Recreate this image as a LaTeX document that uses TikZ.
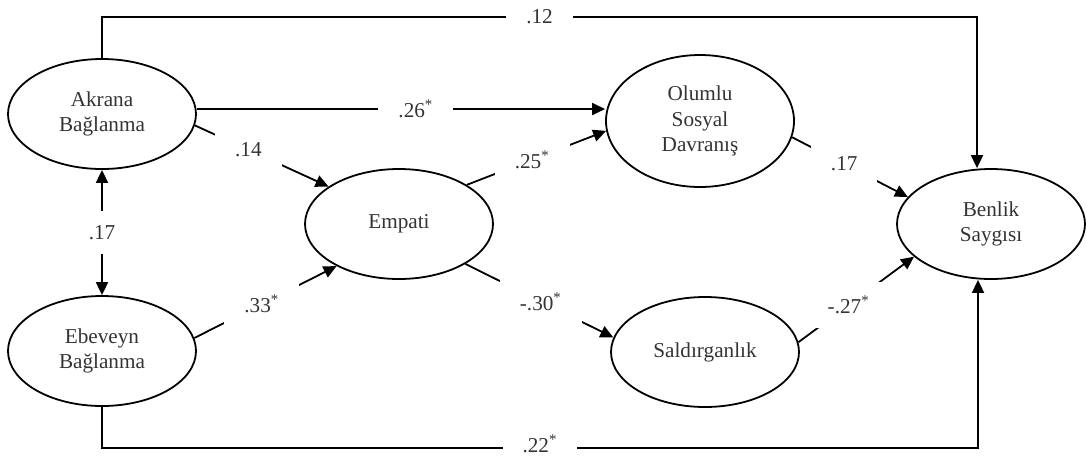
\documentclass[tikz,border=0pt]{standalone}
\usepackage{fontspec}
\setmainfont{Liberation Serif}
\usetikzlibrary{shapes.geometric,arrows.meta}

\tikzset{head/.tip={Triangle[length=6.5pt,width=6pt]}}

\begin{document}
\begin{tikzpicture}[x=0.5pt,y=-0.5pt,
	var/.style={ellipse, draw, line width=0.9pt, minimum width=94pt, minimum height=55pt, inner sep=0pt, align=center, text=black!80, font=\fontsize{10.6}{12.8}\selectfont},
	arr/.style={line width=0.9pt, -head},
	lbl/.style={fill=white, inner xsep=10pt, inner ysep=7pt, text=black!80, font=\fontsize{10.6}{12.8}\selectfont}]
	\useasboundingbox (0,0) rectangle (1086,456);
	% Nodes
	\foreach \nm/\x/\y/\txt in {akrana/102/114/{Akrana\\Bağlanma}, ebeveyn/102/351/{Ebeveyn\\Bağlanma}, empati/399/224/Empati, saldirgan/705/352/Saldırganlık, benlik/991/224/{Benlik\\Saygısı}} {
		\node[var] (\nm) at (\x,\y) {\txt};
	}
	\node[var, minimum height=66pt] (olumlu) at (700,121) {Olumlu\\Sosyal\\Davranış};
	\coordinate (topR) at (977,17);
	\coordinate (botR) at (978,448);
	% Paths
	\foreach \a/\b/\p/\l in {akrana.-7/empati.152/0.40/.14, ebeveyn.8/empati.214/0.475/.33\textsuperscript{*}, empati.30/olumlu.186/0.47/.25\textsuperscript{*}, empati.-31/saldirgan.171/0.51/-.30\textsuperscript{*}, olumlu.-10/benlik.162/0.45/.17, saldirgan.6/benlik.203/0.435/-.27\textsuperscript{*}} {
		\draw[arr] (\a) -- node[lbl, pos=\p] {\l} (\b);
	}
	\draw[arr] (akrana.3) -- node[lbl, pos=0.537] {.26\textsuperscript{*}} (akrana.3 -| olumlu.west);
	\draw[arr, head-head] (akrana.south) -- node[lbl] {.17} (ebeveyn.north);
	\draw[arr] (akrana.north) |- node[lbl, pos=0.75] {.12} (topR) -- (topR |- benlik.north);
	\draw[arr] (ebeveyn.south) |- node[lbl, pos=0.75, yshift=2pt] {.22\textsuperscript{*}} (botR) -- (botR |- benlik.south);
\end{tikzpicture}
\end{document}
